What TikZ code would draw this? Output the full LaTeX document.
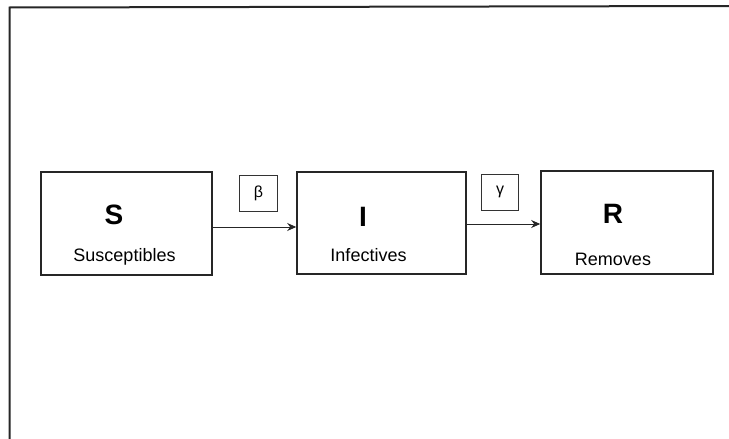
\documentclass[tikz,border=0pt]{standalone}
\usepackage{fontspec}
\setmainfont{Liberation Sans}
\usetikzlibrary{arrows.meta}
\begin{document}
\begin{tikzpicture}[x=1pt,y=-1pt,
  box/.style={draw=black!85, line width=1.6pt, inner sep=0pt},
  ratebox/.style={draw=black!80, line width=0.8pt, inner sep=0pt, minimum width=38pt, minimum height=36pt, font=\fontsize{16}{18}\selectfont},
  letter/.style={font=\fontsize{28}{30}\selectfont\bfseries, inner sep=0pt},
  lab/.style={font=\fontsize{18}{20}\selectfont, inner sep=0pt},
  arr/.style={draw=black!85, line width=1pt, -{Stealth[length=9pt,width=8pt]}}]
\useasboundingbox (0,0) rectangle (729,439);
% scanned frame (top and left edges)
\draw[line width=2pt, black!85] (729,6) -- (9.5,7.5) -- (9.5,439);
% compartments
\node[box, minimum width=171pt, minimum height=103pt] (S) at (126.5,223.5) {};
\node[box, minimum width=169pt, minimum height=102pt] (I) at (381.5,223) {};
\node[box, minimum width=172pt, minimum height=103pt] (R) at (627,222.5) {};
\node[letter] (Sl) at (114,215) {S};
\node[lab] (Sn) at (124.5,257) {Susceptibles};
\node[letter] (Il) at (363,217) {I};
\node[lab] (In) at (368.5,255) {Infectives};
\node[letter] (Rl) at (613,214) {R};
\node[lab] (Rn) at (613,259) {Removes};
% rates
\node[ratebox] (beta) at (258.5,193) {β};
\node[ratebox, minimum width=37pt] (gamma) at (500,192) {γ};
% flows
\draw[arr] (S.east |- 0,227) -- (I.west |- 0,227);
\draw[arr] (I.east |- 0,224) -- (R.west |- 0,224);
\end{tikzpicture}
\end{document}
